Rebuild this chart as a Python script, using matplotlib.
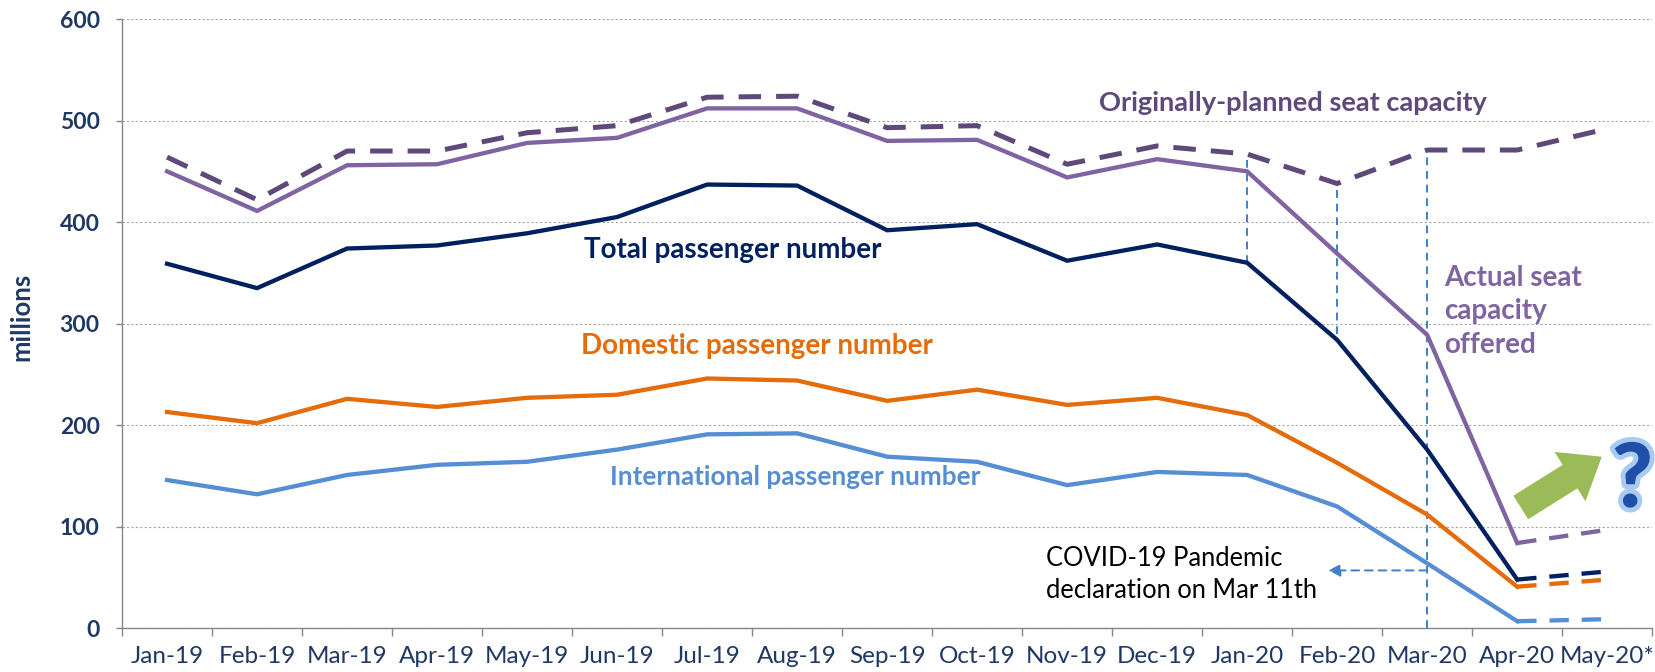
import matplotlib
matplotlib.use("Agg")
import matplotlib.pyplot as plt
import matplotlib.patheffects as pe
import numpy as np

plt.rcParams['font.family'] = ['Lato', 'DejaVu Sans']

months = ['Jan-19', 'Feb-19', 'Mar-19', 'Apr-19', 'May-19', 'Jun-19', 'Jul-19', 'Aug-19',
          'Sep-19', 'Oct-19', 'Nov-19', 'Dec-19', 'Jan-20', 'Feb-20', 'Mar-20', 'Apr-20', 'May-20*']

# millions
planned_seats = [464, 422, 470, 470, 488, 495, 523, 524, 493, 495, 457, 475, 467, 438, 471, 471, 492]
actual_seats = [450, 411, 456, 457, 478, 483, 512, 512, 480, 481, 444, 462, 450, 369, 289, 84, 97]
total_pax = [359, 335, 374, 377, 389, 405, 437, 436, 392, 398, 362, 378, 360, 284, 176, 48, 56]
domestic_pax = [213, 202, 226, 218, 227, 230, 246, 244, 224, 235, 220, 227, 210, 163, 112, 41, 48]
intl_pax = [146, 132, 151, 161, 164, 176, 191, 192, 169, 164, 141, 154, 151, 120, 64, 7, 9]

navy = '#002060'
planned_c = '#5f497a'
actual_c = '#8064a2'
dom_c = '#e46c0a'
intl_c = '#558ed5'
guide_c = '#3f7fc8'
label_c = '#1f3864'

fig = plt.figure(figsize=(16.56, 6.72), dpi=100)
ax = fig.add_axes([0.0737, 0.0650, 0.924, 0.9067])

x = np.arange(len(months))
lw = 3.1

# vertical guide lines at Jan-20, Feb-20, Mar-20
ax.vlines(12, total_pax[12], planned_seats[12], color=guide_c, lw=1.4, linestyles=(0, (4, 3)), zorder=2)
ax.vlines(13, total_pax[13] + 6, planned_seats[13], color=guide_c, lw=1.4, linestyles=(0, (4, 3)), zorder=2)
ax.vlines(14, 0, planned_seats[14], color=guide_c, lw=1.4, linestyles=(0, (4, 3)), zorder=2)

ax.plot(x, planned_seats, color=planned_c, lw=lw + 0.5, dashes=(4.5, 3), zorder=3)
for vals, c in [(actual_seats, actual_c), (total_pax, navy), (domestic_pax, dom_c), (intl_pax, intl_c)]:
    ax.plot(x[:16], vals[:16], color=c, lw=lw, zorder=4, solid_joinstyle='miter')
    ax.plot(x[15:], vals[15:], color=c, lw=lw, dashes=(4.5, 3), zorder=4)

ax.set_xlim(-0.5, 16.5)
ax.set_ylim(0, 600)
ax.set_yticks(range(0, 601, 100))
ax.set_xticks(x)
ax.set_xticklabels(months)
ax.set_xticks(np.arange(-0.5, 16.6, 1), minor=True)
ax.tick_params(axis='x', which='major', length=0, pad=13, labelsize=17.5, labelcolor=label_c)
ax.tick_params(axis='x', which='minor', length=6, width=1, color='#868686', direction='out')
ax.tick_params(axis='y', length=4, width=1, color='#868686', pad=12, labelsize=16.5, labelcolor=label_c)
for t in ax.get_yticklabels():
    t.set_fontweight('bold')
ax.grid(axis='y', color='#a6a6a6', lw=0.8, linestyle=(0, (2, 2)))
ax.set_axisbelow(True)
for s in ['top', 'right']:
    ax.spines[s].set_visible(False)
for s in ['left', 'bottom']:
    ax.spines[s].set_color('#868686')
    ax.spines[s].set_linewidth(1)

fig.text(0.0127, 0.528, 'millions', rotation=90, ha='center', va='center',
         fontsize=18.5, fontweight='bold', color=label_c)

# series labels
ax.text(10.35, 517, 'Originally-planned seat capacity', color=planned_c, fontsize=19.6,
        fontweight='bold', va='center', ha='left')
ax.text(4.63, 373, 'Total passenger number', color=navy, fontsize=20,
        fontweight='bold', va='center', ha='left')
ax.text(4.6, 278, 'Domestic passenger number', color=dom_c, fontsize=20,
        fontweight='bold', va='center', ha='left')
ax.text(4.92, 149, 'International passenger number', color=intl_c, fontsize=18.8,
        fontweight='bold', va='center', ha='left')
ax.text(14.19, 312, 'Actual seat\ncapacity\noffered', color=actual_c, fontsize=20,
        fontweight='bold', va='center', ha='left', linespacing=1.38)

# pandemic declaration note
ax.text(9.76, 53, 'COVID-19 Pandemic\ndeclaration on Mar 11th', color='black', fontsize=18.4,
        va='center', ha='left', linespacing=1.35)
ax.annotate('', xy=(12.9, 57), xytext=(14, 57),
            arrowprops=dict(arrowstyle='-|>', color=guide_c, lw=1.4, linestyle=(0, (4, 3)),
                            shrinkA=0, shrinkB=0, mutation_scale=18))

# recovery arrow and question mark
ax.annotate('', xy=(15.94, 169), xytext=(15.04, 119),
            arrowprops=dict(arrowstyle='simple,head_width=2.1,head_length=1.35,tail_width=1.0',
                            fc='#9bbb59', ec='none', shrinkA=0, shrinkB=0, mutation_scale=20),
            annotation_clip=False)
ax.text(16.05, 145, '?', color='#1f4fa8', fontsize=64, fontweight='black', ha='left', va='center',
        clip_on=False, path_effects=[pe.withStroke(linewidth=7, foreground='#a9cbf2')])

fig.savefig('out.png', dpi=100)
